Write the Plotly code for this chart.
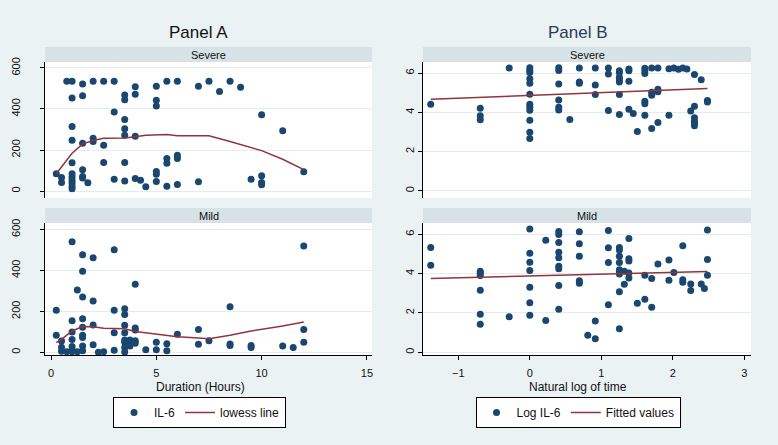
import plotly.graph_objects as go

# ── Palette (Stata s2color) ───────────────────────────────────────────────────
NAVY  = "#1A476F"
MAROON = "#90353B"
BG    = "#EAF2F3"
STRIP = "#D6E2E6"
GRID  = "#E3ECEE"
FONT  = "Liberation Sans, Arial, sans-serif"
W, H  = 778, 445

# ── Panel A : IL-6 vs duration (hours) ────────────────────────────────────────
sev_hours = [0.25, 0.5, 0.5, 0.75,
             1, 1, 1, 1, 1, 1, 1, 1, 1, 1, 1,
             1.5, 1.5, 1.5, 1.5, 1.5, 1.5, 1.75,
             2, 2, 2, 2.5, 2.5, 2.5, 3, 3, 3,
             3.5, 3.5, 3.5, 3.5, 3.5, 3.5, 3.5,
             4, 4, 4, 4, 4.25, 4.5,
             5, 5, 5, 5, 5, 5, 5.5, 5.5, 5.5, 5.5, 6, 6, 6, 6,
             7, 7, 7.5, 8, 8.5, 9, 9.5, 10, 10, 10, 10, 11, 12]
sev_il6 = [84, 66, 42, 535,
           535, 453, 314, 248, 138, 84, 68, 53, 39, 23, 11,
           522, 464, 233, 104, 71, 63, 40,
           535, 257, 241, 535, 223, 139, 535, 385, 58,
           468, 445, 349, 304, 272, 139, 49,
           508, 472, 267, 61, 52, 21,
           511, 443, 414, 95, 82, 47, 535, 159, 136, 23, 535, 175, 159, 32,
           511, 45, 535, 485, 535, 506, 58, 372, 74, 42, 31, 294, 94]
sev_lowess_x = [0.25, 1, 1.5, 2, 2.5, 3.5, 4, 4.5, 5.5, 6, 7, 7.5, 8.5, 9.5, 10, 11, 12]
sev_lowess_y = [84, 184, 230, 246, 257, 259, 265, 272, 275, 269, 269, 269, 241, 212, 197, 155, 104]

mild_hours = [0.25, 0.25, 0.5, 0.5, 0.5, 0.75,
              1, 1, 1, 1, 1, 1, 1, 1.25, 1.25,
              1.5, 1.5, 1.5, 1.5, 1.5, 1.5, 1.5, 1.5, 1.5,
              2, 2, 2, 2, 2.25, 2.5, 3, 3, 3, 3,
              3.5, 3.5, 3.5, 3.5, 3.5, 3.5, 3.5, 3.5, 3.75, 3.75,
              4, 4, 4, 4, 4, 4.5, 5, 5, 5.5, 5.5, 6, 7, 7, 7.5,
              8.5, 8.5, 8.5, 9.5, 9.5, 11, 11.5, 12, 12, 12]
mild_il6 = [205, 83, 55, 25, 5, 3,
            540, 154, 99, 63, 28, 11, 3, 304, 3,
            476, 395, 270, 164, 122, 83, 72, 31, 8,
            462, 250, 133, 37, 0, 3, 501, 205, 96, 10,
            213, 185, 132, 96, 60, 49, 23, 2, 60, 31,
            332, 119, 109, 57, 44, 13, 49, 13, 42, 8, 88, 112, 39, 57,
            223, 41, 33, 33, 23, 31, 24, 519, 111, 49]
mild_lowess_x = [0.25, 0.5, 1, 1.5, 2, 2.5, 3, 3.5, 4, 5, 6, 7, 7.5, 8.5, 9.5, 11, 12]
mild_lowess_y = [47, 63, 104, 126, 125, 118, 116, 115, 102, 88, 76, 70, 66, 83, 104, 128, 148]

# ── Panel B : log IL-6 vs natural log of time ─────────────────────────────────
sev_lnt = [-1.386, -0.693, -0.693, -0.693, -0.288,
           0, 0, 0, 0, 0, 0, 0, 0, 0, 0, 0, 0,
           0.405, 0.405, 0.405, 0.405, 0.405, 0.405, 0.56,
           0.693, 0.693, 0.693, 0.916, 0.916, 0.916, 1.099, 1.099, 1.099,
           1.253, 1.253, 1.253, 1.253, 1.253, 1.253, 1.253,
           1.386, 1.386, 1.386, 1.386, 1.447, 1.504,
           1.609, 1.609, 1.609, 1.609, 1.609, 1.609,
           1.705, 1.705, 1.705, 1.705, 1.792, 1.792, 1.792, 1.792,
           1.946, 1.946, 2.015, 2.079, 2.140, 2.197, 2.251,
           2.303, 2.303, 2.303, 2.303, 2.303, 2.303, 2.398, 2.485, 2.485]
sev_logil6 = [4.41, 4.21, 3.82, 3.62, 6.25,
              6.27, 6.13, 6.03, 5.71, 5.48, 4.92, 4.41, 4.26, 4.11, 3.60, 2.99, 2.67,
              6.27, 6.13, 5.44, 4.63, 4.26, 4.12, 3.63,
              6.25, 5.54, 5.48, 6.25, 5.39, 4.90, 6.25, 5.95, 4.09,
              6.12, 6.02, 5.78, 5.64, 5.54, 4.90, 3.89,
              6.20, 6.12, 5.58, 4.16, 3.94, 3.03,
              6.24, 6.12, 5.98, 4.56, 4.43, 3.85,
              6.25, 5.02, 4.87, 3.18, 6.25, 5.17, 5.04, 3.48,
              6.22, 3.85, 6.25, 6.19, 6.25, 6.20, 4.07,
              5.92, 4.31, 3.72, 3.55, 3.45, 3.31, 5.66, 4.60, 4.53]
sev_fit_x = [-1.386, 2.485]
sev_fit_y = [4.66, 5.21]

mild_lnt = [-1.386, -1.386, -0.693, -0.693, -0.693, -0.693, -0.693, -0.693, -0.288,
            0, 0, 0, 0, 0, 0, 0, 0.223, 0.223,
            0.405, 0.405, 0.405, 0.405, 0.405, 0.405, 0.405, 0.405, 0.405,
            0.693, 0.693, 0.693, 0.693, 0.693, 0.811, 0.916, 0.916,
            1.099, 1.099, 1.099, 1.099,
            1.253, 1.253, 1.253, 1.253, 1.253, 1.253, 1.253, 1.253, 1.253,
            1.322, 1.322, 1.386, 1.386, 1.386, 1.386, 1.386, 1.504,
            1.609, 1.609, 1.705, 1.705, 1.792, 1.946, 1.946, 2.015,
            2.140, 2.140, 2.140, 2.251, 2.251, 2.398, 2.442, 2.485, 2.485, 2.485]
mild_logil6 = [5.32, 4.42, 4.12, 4.02, 3.90, 3.15, 1.93, 1.42, 1.81,
               6.27, 5.03, 4.58, 4.15, 3.31, 2.51, 1.88, 5.69, 1.61,
               6.14, 5.98, 5.58, 5.08, 4.80, 4.37, 4.24, 3.39, 2.19,
               6.12, 5.51, 4.88, 3.63, 3.51, 0.86, 1.59, 0.68,
               6.19, 5.31, 4.56, 2.41,
               5.32, 5.20, 4.88, 4.56, 4.19, 4.10, 3.98, 3.07, 1.20,
               4.12, 3.46, 5.78, 4.75, 4.64, 4.03, 3.78, 2.49,
               3.92, 2.69, 3.75, 2.29, 4.49, 4.69, 3.66, 4.05,
               5.41, 3.68, 3.56, 3.47, 3.14, 3.47, 3.24, 6.22, 4.71, 3.92]
mild_fit_x = [-1.386, 2.485]
mild_fit_y = [3.75, 4.10]

A_YTICKS = [0, 200, 400, 600]
B_YTICKS = [0, 2, 4, 6]
A_XTICKS = [0, 5, 10, 15]
B_XTICKS = [-1, 0, 1, 2, 3]


def px_x(p):
    return p / W


def px_y(p):
    return 1 - p / H


# plot regions in pixels (left, right, top, bottom)
A_L, A_R = 45, 372
B_L, B_R = 423, 751
SEV_T, SEV_B = 62, 198
MILD_T, MILD_B = 223, 355

fig = go.Figure()


def scatter(x, y, xa, ya, name, legend, show):
    fig.add_trace(go.Scatter(
        x=x, y=y, mode="markers", name=name, xaxis=xa, yaxis=ya,
        marker=dict(color=NAVY, size=7, line=dict(width=0)),
        legend=legend, showlegend=show,
    ))


def line(x, y, xa, ya, name, legend, show):
    fig.add_trace(go.Scatter(
        x=x, y=y, mode="lines", name=name, xaxis=xa, yaxis=ya,
        line=dict(color=MAROON, width=1.5),
        legend=legend, showlegend=show,
    ))


scatter(sev_hours, sev_il6, "x", "y", "IL-6", "legend", True)
line(sev_lowess_x, sev_lowess_y, "x", "y", "lowess line", "legend", True)
scatter(mild_hours, mild_il6, "x2", "y2", "IL-6", "legend", False)
line(mild_lowess_x, mild_lowess_y, "x2", "y2", "lowess line", "legend", False)
scatter(sev_lnt, sev_logil6, "x3", "y3", "Log IL-6", "legend2", True)
line(sev_fit_x, sev_fit_y, "x3", "y3", "Fitted values", "legend2", True)
scatter(mild_lnt, mild_logil6, "x4", "y4", "Log IL-6", "legend2", False)
line(mild_fit_x, mild_fit_y, "x4", "y4", "Fitted values", "legend2", False)


def xaxis(l, r, rng, ticks, anchor, visible):
    d = dict(domain=[px_x(l), px_x(r)], range=rng, anchor=anchor,
             showgrid=False, zeroline=False, fixedrange=True)
    if visible:
        d.update(showline=True, linecolor="#000", linewidth=1,
                 ticks="outside", ticklen=4, tickcolor="#000",
                 tickvals=ticks, ticklabelstandoff=4,
                 tickfont=dict(size=11, color="#111"))
    else:
        d.update(showline=False, showticklabels=False, ticks="")
    return d


def yaxis(t, b, rng, ticks, anchor, standoff):
    return dict(domain=[px_y(b), px_y(t)], range=rng, anchor=anchor,
                showline=True, linecolor="#000", linewidth=1,
                ticks="outside", ticklen=4, tickcolor="#000",
                tickvals=ticks, tickangle=-90, ticklabelstandoff=standoff,
                showgrid=True, gridcolor=GRID, gridwidth=1, zeroline=False,
                tickfont=dict(size=11, color="#111"), fixedrange=True)


A_XR = [-0.285, 15.24]
B_XR = [-1.494, 3.094]

fig.update_layout(
    xaxis=xaxis(A_L, A_R, A_XR, A_XTICKS, "y", False),
    xaxis2=xaxis(A_L, A_R, A_XR, A_XTICKS, "y2", True),
    xaxis3=xaxis(B_L, B_R, B_XR, B_XTICKS, "y3", False),
    xaxis4=xaxis(B_L, B_R, B_XR, B_XTICKS, "y4", True),
    yaxis=yaxis(SEV_T, SEV_B, [-34, 629], A_YTICKS, "x", 16),
    yaxis2=yaxis(MILD_T, MILD_B, [-13, 631], A_YTICKS, "x2", 16),
    yaxis3=yaxis(SEV_T, SEV_B, [-0.36, 6.56], B_YTICKS, "x3", 0),
    yaxis4=yaxis(MILD_T, MILD_B, [-0.14, 6.57], B_YTICKS, "x4", 0),
)

# strips, titles and axis titles
shapes, annots = [], []
for l, r in [(A_L, A_R), (B_L, B_R)]:
    for t, b, lab in [(47, SEV_T, "Severe"), (208, MILD_T, "Mild")]:
        shapes.append(dict(type="rect", xref="paper", yref="paper",
                           x0=px_x(l), x1=px_x(r), y0=px_y(b), y1=px_y(t),
                           fillcolor=STRIP, line=dict(width=0), layer="below"))
        annots.append(dict(text=lab, x=px_x((l + r) / 2), y=px_y((t + b) / 2),
                           font=dict(size=11, color="#111")))

annots += [
    dict(text="Panel A", x=px_x(199), y=px_y(32), font=dict(size=17, color="#111")),
    dict(text="Panel B", x=px_x(578), y=px_y(32), font=dict(size=17, color="#2B3A5A")),
    dict(text="Duration (Hours)", x=px_x(200), y=px_y(387), font=dict(size=12, color="#111")),
    dict(text="Natural log of time", x=px_x(578), y=px_y(387), font=dict(size=12, color="#111")),
]
for a in annots:
    a.update(xref="paper", yref="paper", showarrow=False,
             xanchor="center", yanchor="middle")

legend_style = dict(orientation="h", xanchor="center", yanchor="top",
                    bgcolor="white", bordercolor="#000", borderwidth=1,
                    font=dict(size=12, color="#111"), itemwidth=30,
                    tracegroupgap=0)

fig.update_layout(
    width=W, height=H,
    margin=dict(l=0, r=0, t=0, b=0, autoexpand=False),
    paper_bgcolor=BG, plot_bgcolor="white",
    font=dict(family=FONT, color="#111"),
    shapes=shapes, annotations=annots,
    legend=dict(x=px_x(199.5), y=px_y(397), **legend_style),
    legend2=dict(x=px_x(578), y=px_y(397), **legend_style),
)

fig.write_html("out.html", config={"displayModeBar": False},
               post_script="document.body.style.margin='0';")
